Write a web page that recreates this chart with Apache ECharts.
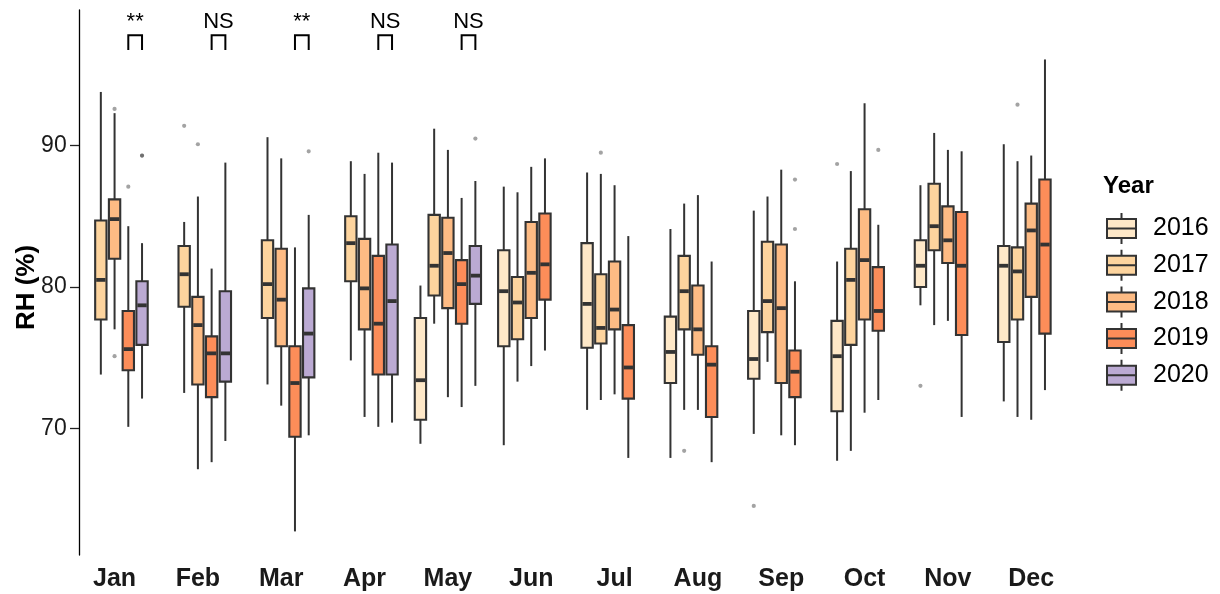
<!DOCTYPE html>
<html>
<head>
<meta charset="utf-8">
<script src="https://cdn.jsdelivr.net/npm/echarts@6/dist/echarts.min.js"></script>
<style>html,body{margin:0;padding:0;background:#fff}#c{width:1220px;height:594px}</style>
</head>
<body>
<div id="c"></div>
<script>
// ---------- data ----------
const months = ['Jan','Feb','Mar','Apr','May','Jun','Jul','Aug','Sep','Oct','Nov','Dec'];
const years = ['2016','2017','2018','2019','2020'];
const yearColors = ['#FEE8C8','#FDD49E','#FDBB84','#FC8D59','#BBAAD3'];
const yTicks = [70, 80, 90];
const yMin = 61.03, yMax = 99.6;

// [month, lower whisker, Q1, median, Q3, upper whisker]
const box2016 = [
  ['May',68.9,70.6,73.4,77.8,80.1],['Jun',68.8,75.8,79.7,82.6,87.1],['Jul',71.3,75.7,78.8,83.1,88.1],
  ['Aug',67.9,73.2,75.4,77.9,84.1],['Sep',69.6,73.5,74.9,78.3,85.4],['Oct',67.7,71.2,75.1,77.6,81.8],
  ['Nov',78.7,80.0,81.5,83.3,87.2],['Dec',71.9,76.1,81.5,82.9,90.1]
];
const box2017 = [
  ['Jan',73.8,77.7,80.5,84.7,93.8],['Feb',72.5,78.6,80.9,82.9,84.6],['Mar',73.1,77.8,80.2,83.3,90.6],
  ['Apr',74.8,80.4,83.1,85.0,88.9],['May',77.4,79.4,81.5,85.1,91.2],['Jun',73.3,76.3,78.9,80.7,86.7],
  ['Jul',72.0,76.0,77.1,80.9,88.0],['Aug',71.3,77.0,79.7,82.2,85.9],['Sep',74.7,76.8,79.0,83.2,86.4],
  ['Oct',68.4,75.9,80.5,82.7,88.2],['Nov',77.3,82.6,84.3,87.3,90.9],['Dec',70.8,77.7,81.1,82.8,88.9]
];
const box2018 = [
  ['Jan',77.0,82.0,84.8,86.2,92.3],['Feb',67.1,73.1,77.3,79.3,86.4],['Mar',71.6,75.8,79.1,82.7,89.1],
  ['Apr',70.8,77.0,79.9,83.4,88.0],['May',72.2,78.5,82.4,84.9,89.7],['Jun',74.4,77.8,81.0,84.6,88.5],
  ['Jul',72.4,77.0,78.4,81.8,87.2],['Aug',71.3,75.2,77.0,80.1,86.5],['Sep',69.5,73.2,78.5,83.0,88.3],
  ['Oct',71.1,77.7,81.9,85.5,93.0],['Nov',77.6,81.7,83.3,85.7,89.7],['Dec',70.6,79.3,84.0,85.9,89.3]
];
const box2019 = [
  ['Jan',70.1,74.1,75.6,78.3,84.3],['Feb',67.6,72.2,75.3,76.5,81.3],['Mar',62.7,69.4,73.2,75.8,82.8],
  ['Apr',70.1,73.8,77.4,82.2,89.5],['May',71.5,77.4,80.2,81.9,86.3],['Jun',75.5,79.1,81.6,85.2,89.1],
  ['Jul',67.9,72.1,74.3,77.3,83.6],['Aug',67.6,70.8,74.5,75.8,81.8],['Sep',68.8,72.2,74.0,75.5,80.4],
  ['Oct',72.0,76.9,78.3,81.4,84.4],['Nov',70.8,76.6,81.5,85.3,89.6],['Dec',72.7,76.7,83.0,87.6,96.1]
];
const box2020 = [
  ['Jan',72.1,75.9,78.7,80.4,83.1],['Feb',69.1,73.3,75.3,79.7,88.8],['Mar',69.5,73.6,76.7,79.9,85.1],
  ['Apr',70.4,73.8,79.0,83.0,88.8],['May',73.0,78.8,80.8,82.9,87.5]
];
// outliers: [month, value]
const out2016 = [['Sep',64.5],['Oct',88.7],['Nov',73.0]];
const out2017 = [['Feb',91.4],['Jul',89.5],['Aug',68.4],['Dec',92.9]];
const out2018 = [['Jan',92.6],['Jan',75.1],['Feb',90.1]];
const out2019 = [['Jan',87.1],['Sep',87.6],['Sep',84.1],['Oct',89.7]];
const out2020 = [['Jan',89.3],['Jan',89.3],['Mar',89.6],['May',90.5]];

// significance (2019 vs 2020)
const sigMonths = ['Jan','Feb','Mar','Apr','May'];
const sigText = ['**','NS','**','NS','NS'];
const bracketLow = 96.77, bracketTop = 97.81, sigTextY = 98.73;

// ---------- drawing ----------
const FONT = "'Liberation Sans', Arial, Helvetica, sans-serif";
const SLOT = 0.1648;  // dodge step as fraction of band
const BOXW = 0.136;   // box width as fraction of band
const boxes = [box2016, box2017, box2018, box2019, box2020];
const outs = [out2016, out2017, out2018, out2019, out2020];

function slotPos(api, m, v, yi) {
  const p = api.coord([m, v]);
  const bw = api.size([1, 0])[0];
  return [p[0] + (yi - 2) * bw * SLOT, p[1]];
}

function boxRender(yi) {
  return function (params, api) {
    const m = api.value(0);
    const bw = api.size([1, 0])[0];
    const hw = bw * BOXW / 2;
    const lo = slotPos(api, m, api.value(1), yi);
    const q1 = slotPos(api, m, api.value(2), yi);
    const md = slotPos(api, m, api.value(3), yi);
    const q3 = slotPos(api, m, api.value(4), yi);
    const hi = slotPos(api, m, api.value(5), yi);
    const x = lo[0];
    const ls = { stroke: '#333333', lineWidth: 2, fill: null };
    return {
      type: 'group',
      children: [
        { type: 'line', shape: { x1: x, y1: q1[1], x2: x, y2: lo[1] }, style: ls },
        { type: 'line', shape: { x1: x, y1: q3[1], x2: x, y2: hi[1] }, style: ls },
        { type: 'rect', shape: { x: x - hw, y: q3[1], width: 2 * hw, height: q1[1] - q3[1] },
          style: { fill: yearColors[yi], stroke: '#333333', lineWidth: 2.1 } },
        { type: 'line', shape: { x1: x - hw + 1, y1: md[1], x2: x + hw - 1, y2: md[1] },
          style: { stroke: '#333333', lineWidth: 3.8 } }
      ]
    };
  };
}

function outRender(yi) {
  return function (params, api) {
    const p = slotPos(api, api.value(0), api.value(1), yi);
    return { type: 'circle', shape: { cx: p[0], cy: p[1], r: 2.1 },
      style: { fill: 'rgba(51,51,51,0.45)' } };
  };
}

const series = [];
years.forEach(function (y, yi) {
  series.push({
    name: y, type: 'custom', renderItem: boxRender(yi),
    itemStyle: { color: yearColors[yi], borderColor: '#333', borderWidth: 2 },
    encode: { x: 0, y: [1, 2, 3, 4, 5] },
    data: boxes[yi]
  });
});
years.forEach(function (y, yi) {
  series.push({
    name: 'out' + y, type: 'custom', renderItem: outRender(yi),
    encode: { x: 0, y: 1 }, data: outs[yi], z: 1
  });
});
series.push({
  name: 'sig', type: 'custom',
  encode: { x: 0, y: 1 },
  data: sigMonths.map(function (m) { return [m, bracketTop]; }),
  renderItem: function (params, api) {
    const m = api.value(0);
    const a = slotPos(api, m, bracketLow, 3);
    const b = slotPos(api, m, bracketTop, 4);
    const aTop = slotPos(api, m, bracketTop, 3);
    const t = slotPos(api, m, sigTextY, 3);
    const tx = (a[0] + b[0]) / 2;
    return {
      type: 'group',
      children: [
        { type: 'polyline', shape: { points: [[a[0], a[1]], [aTop[0], aTop[1]], [b[0], b[1]], [b[0], a[1]]] },
          style: { stroke: '#000', lineWidth: 2, fill: null } },
        { type: 'text', style: { x: tx, y: t[1], text: sigText[params.dataIndex], align: 'center',
          verticalAlign: 'middle', fontSize: 22, fontFamily: FONT, fill: '#000' } }
      ]
    };
  }
});

const chart = echarts.init(document.getElementById('c'), null, { renderer: 'canvas' });
chart.setOption({
  backgroundColor: '#ffffff',
  animation: false,
  textStyle: { fontFamily: FONT },
  title: { text: 'Year', left: 1103, top: 174, padding: 0,
    textStyle: { fontSize: 24, fontWeight: 'bold', color: '#000', fontFamily: FONT } },
  legend: {
    orient: 'vertical', left: 1106, top: 212, padding: 0,
    itemWidth: 29, itemHeight: 31, itemGap: 3.7,
    icon: 'path://M14.5,0V6M0,6H29V25H0ZM0,15.5H29M14.5,25V31',
    selectedMode: false,
    textStyle: { fontSize: 25, lineHeight: 28, color: '#000', fontFamily: FONT, padding: [0, 0, 0, 12] },
    data: years.map(function (y, i) {
      return { name: y, itemStyle: { color: yearColors[i], borderColor: '#333333', borderWidth: 2 } };
    })
  },
  grid: { left: 72.9, right: 147.1, top: 10, bottom: 39, containLabel: false, outerBoundsMode: 'none' },
  xAxis: {
    type: 'category', data: months, boundaryGap: true,
    axisLine: { show: false }, axisTick: { show: false },
    axisLabel: { fontSize: 25, fontWeight: 'bold', color: '#1a1a1a', margin: 12, fontFamily: FONT },
    splitLine: { show: false }
  },
  yAxis: {
    type: 'value', min: yMin, max: yMax, offset: -6.1,
    name: 'RH (%)', nameLocation: 'middle', nameGap: 39, nameMoveOverlap: false,
    nameTextStyle: { fontSize: 26, fontWeight: 'bold', color: '#000', fontFamily: FONT, padding: [0, 10, 0, 0] },
    axisLine: { show: true, lineStyle: { color: '#000', width: 1.3 } },
    axisTick: { show: true, length: 9, customValues: yTicks, lineStyle: { color: '#222', width: 1.3 } },
    axisLabel: { customValues: yTicks, fontSize: 23, color: '#1a1a1a', margin: 12.3, fontFamily: FONT },
    splitLine: { show: false }
  },
  series: series
});
</script>
</body>
</html>
